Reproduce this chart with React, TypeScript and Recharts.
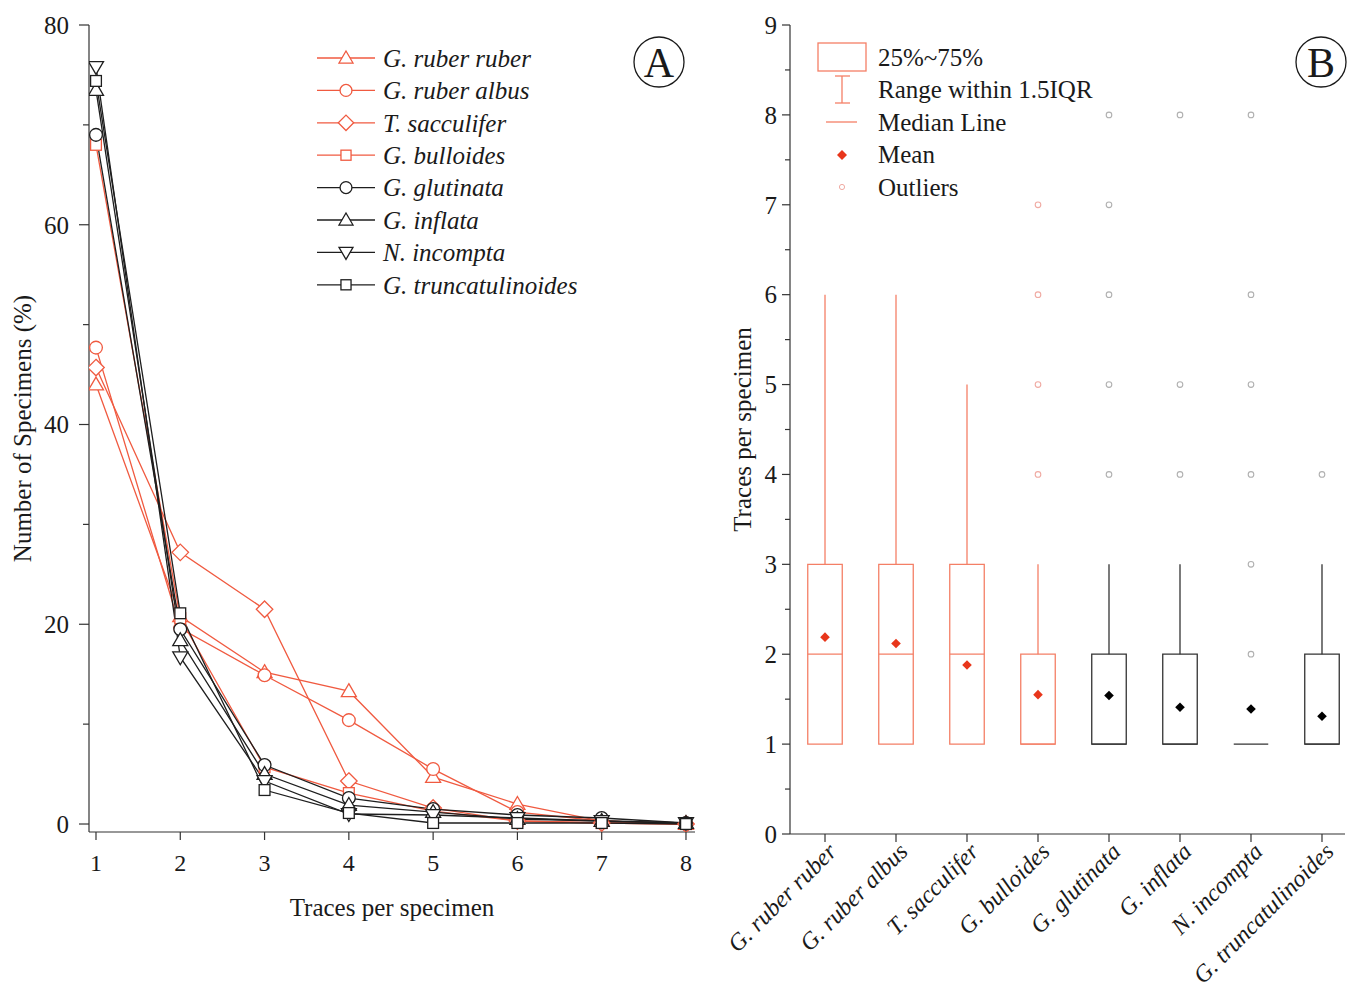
import React from 'react';
import {
  LineChart,
  Line,
  XAxis,
  YAxis,
  ComposedChart,
  Scatter,
  ReferenceArea,
  ReferenceLine,
  Legend,
} from 'recharts';

// ---------------- Data: panel A ----------------
const traces = [1, 2, 3, 4, 5, 6, 7, 8];
const gRuberRuber = [44.0, 20.8, 15.2, 13.3, 4.7, 2.0, 0.3, 0.0];
const gRuberAlbus = [47.7, 19.6, 14.9, 10.4, 5.5, 1.2, 0.3, 0.0];
const tSacculifer = [45.7, 27.2, 21.5, 4.3, 1.6, 0.3, 0.1, 0.0];
const gBulloides = [68.0, 20.6, 5.7, 3.1, 1.3, 0.3, 0.1, 0.0];
const gGlutinata = [69.0, 19.5, 5.9, 2.6, 1.5, 0.9, 0.6, 0.1];
const gInflata = [73.5, 18.4, 5.0, 1.9, 1.2, 0.5, 0.3, 0.1];
const nIncompta = [75.8, 16.7, 4.3, 1.0, 0.9, 0.6, 0.3, 0.1];
const gTruncatulinoides = [74.4, 21.1, 3.4, 1.1, 0.1, 0.1, 0.1, 0.0];

const seriesNamesA = [
  'G. ruber ruber',
  'G. ruber albus',
  'T. sacculifer',
  'G. bulloides',
  'G. glutinata',
  'G. inflata',
  'N. incompta',
  'G. truncatulinoides',
];
const seriesValuesA = [
  gRuberRuber,
  gRuberAlbus,
  tSacculifer,
  gBulloides,
  gGlutinata,
  gInflata,
  nIncompta,
  gTruncatulinoides,
];
const yMajorTicksA = [0, 20, 40, 60, 80];
const yMinorTicksA = [10, 30, 50, 70];

// ---------------- Data: panel B ----------------
const speciesB = [
  'G. ruber ruber',
  'G. ruber albus',
  'T. sacculifer',
  'G. bulloides',
  'G. glutinata',
  'G. inflata',
  'N. incompta',
  'G. truncatulinoides',
];
const q1B = [1, 1, 1, 1, 1, 1, 1, 1];
const medianB = [2, 2, 2, 1, 1, 1, 1, 1];
const q3B = [3, 3, 3, 2, 2, 2, 1, 2];
const whiskerHighB = [6, 6, 5, 3, 3, 3, 1, 3];
const meanB = [2.19, 2.12, 1.88, 1.55, 1.54, 1.41, 1.39, 1.31];
const outliersB = [[], [], [], [4, 5, 6, 7], [4, 5, 6, 7, 8], [4, 5, 8], [2, 3, 4, 5, 6, 8], [4]];
const yMajorTicksB = [0, 1, 2, 3, 4, 5, 6, 7, 8, 9];
const yMinorTicksB = [0.5, 1.5, 2.5, 3.5, 4.5, 5.5, 6.5, 7.5, 8.5];

// ---------------- Styles ----------------
const FONT = '"Liberation Serif", "Times New Roman", serif';
const RED = '#f05a40';
const BLACK = '#1e1e1e';
const BOX_RED = '#f47f66';
const BOX_BLACK = '#333333';
const MEAN_RED = '#e8361b';
const OUT_RED = '#f0aaa2';
const OUT_GREY = '#b0b0b0';
const AXIS = '#333333';
const TEXT = '#1a1a1a';

const markerA = ['triangle', 'circle', 'diamond', 'square', 'circle', 'triangle', 'triangleDown', 'square'];
const colorA = [RED, RED, RED, RED, BLACK, BLACK, BLACK, BLACK];
const isRedB = [true, true, true, true, false, false, false, false];
const BOX_HALF = 0.243;

// tables built from arrays
const tableA = traces.map((t, i) => {
  const row: any = { t };
  seriesValuesA.forEach((vals, s) => {
    row['s' + s] = vals[i];
  });
  return row;
});
const boxRows = speciesB.map((name, i) => ({
  pos: i + 1,
  name,
  q1: q1B[i],
  med: medianB[i],
  q3: q3B[i],
  hi: whiskerHighB[i],
  v: meanB[i],
  red: isRedB[i],
}));
const outlierRows: any[] = [];
outliersB.forEach((arr, i) => arr.forEach((v) => outlierRows.push({ pos: i + 1, v, red: isRedB[i] })));

// ---------------- Markers ----------------
function Marker({ shape, cx, cy, s, color, sw = 1.3 }: any) {
  if (cx == null || cy == null) return null;
  switch (shape) {
    case 'circle':
      return <circle cx={cx} cy={cy} r={s * 0.85} fill="#fff" stroke={color} strokeWidth={sw} />;
    case 'square': {
      const h = s * 0.72;
      return <rect x={cx - h} y={cy - h} width={2 * h} height={2 * h} fill="#fff" stroke={color} strokeWidth={sw} />;
    }
    case 'triangle':
      return (
        <polygon
          points={`${cx},${cy - s} ${cx + s},${cy + s * 0.72} ${cx - s},${cy + s * 0.72}`}
          fill="#fff"
          stroke={color}
          strokeWidth={sw}
        />
      );
    case 'triangleDown':
      return (
        <polygon
          points={`${cx},${cy + s} ${cx + s},${cy - s * 0.72} ${cx - s},${cy - s * 0.72}`}
          fill="#fff"
          stroke={color}
          strokeWidth={sw}
        />
      );
    case 'diamond':
      return (
        <polygon
          points={`${cx},${cy - s * 1.1} ${cx + s * 1.1},${cy} ${cx},${cy + s * 1.1} ${cx - s * 1.1},${cy}`}
          fill="#fff"
          stroke={color}
          strokeWidth={sw}
        />
      );
    default:
      return null;
  }
}

// ---------------- Ticks ----------------
const YTickA = (props: any) => {
  const { x, y, payload } = props;
  const major = yMajorTicksA.includes(payload.value);
  return (
    <g>
      <line x1={x} x2={x - (major ? 10 : 6)} y1={y} y2={y} stroke={AXIS} strokeWidth={1.2} />
      {major && (
        <text x={x - 20} y={y} dy="0.35em" textAnchor="end" fontFamily={FONT} fontSize={25} fill={TEXT}>
          {payload.value}
        </text>
      )}
    </g>
  );
};

const XTickA = (props: any) => {
  const { x, y, payload } = props;
  return (
    <g>
      <line x1={x} x2={x} y1={y} y2={y + 8} stroke={AXIS} strokeWidth={1.2} />
      <text x={x} y={y + 31} dy="0.35em" textAnchor="middle" fontFamily={FONT} fontSize={24} fill={TEXT}>
        {payload.value}
      </text>
    </g>
  );
};

const YTickB = (props: any) => {
  const { x, y, payload } = props;
  const major = yMajorTicksB.includes(payload.value);
  return (
    <g>
      <line x1={x} x2={x - (major ? 8 : 5)} y1={y} y2={y} stroke={AXIS} strokeWidth={1.2} />
      {major && (
        <text x={x - 13} y={y} dy="0.35em" textAnchor="end" fontFamily={FONT} fontSize={25} fill={TEXT}>
          {payload.value}
        </text>
      )}
    </g>
  );
};

const XTickB = (props: any) => {
  const { x, y, payload } = props;
  const name = speciesB[Math.round(payload.value) - 1];
  const ax = x + 13;
  const ay = y + 19;
  return (
    <g>
      <line x1={x} x2={x} y1={y} y2={y + 8} stroke={AXIS} strokeWidth={1.2} />
      <text
        transform={`translate(${ax},${ay}) rotate(-45)`}
        textAnchor="end"
        fontFamily={FONT}
        fontStyle="italic"
        fontSize={24}
        fill={TEXT}
      >
        {name}
      </text>
    </g>
  );
};

// ---------------- Legends ----------------
const LegendA = () => (
  <svg width={300} height={270} style={{ overflow: 'visible', display: 'block' }}>
    {seriesNamesA.map((name, i) => {
      const cy = 23 + i * 32.4;
      return (
        <g key={name}>
          <line x1={7} x2={65} y1={cy} y2={cy} stroke={colorA[i]} strokeWidth={1.3} />
          <Marker shape={markerA[i]} cx={36} cy={cy} s={7} color={colorA[i]} sw={1.3} />
          <text x={73} y={cy} dy="0.35em" fontFamily={FONT} fontStyle="italic" fontSize={25} fill={TEXT}>
            {name}
          </text>
        </g>
      );
    })}
  </svg>
);

const legendLabelsB = ['25%~75%', 'Range within 1.5IQR', 'Median Line', 'Mean', 'Outliers'];
const LegendB = () => (
  <svg width={320} height={180} style={{ overflow: 'visible', display: 'block' }}>
    <rect x={8} y={8} width={48} height={28} fill="none" stroke={BOX_RED} strokeWidth={1.3} />
    <line x1={32} x2={32} y1={41} y2={68} stroke={BOX_RED} strokeWidth={1.3} />
    <line x1={25} x2={40} y1={41} y2={41} stroke={BOX_RED} strokeWidth={1.3} />
    <line x1={25} x2={40} y1={68} y2={68} stroke={BOX_RED} strokeWidth={1.3} />
    <line x1={16} x2={47} y1={87} y2={87} stroke={BOX_RED} strokeWidth={1.3} />
    <polygon points="32,115 37,120 32,125 27,120" fill={MEAN_RED} />
    <circle cx={32} cy={152} r={2.6} fill="none" stroke={OUT_RED} strokeWidth={1} />
    {legendLabelsB.map((t, i) => (
      <text key={t} x={68} y={22 + i * 32.5} dy="0.35em" fontFamily={FONT} fontSize={25} fill={TEXT}>
        {t}
      </text>
    ))}
  </svg>
);

// ---------------- Scatter shapes ----------------
const MeanShape = (props: any) => {
  const { cx, cy, payload } = props;
  if (cx == null || cy == null) return null;
  const s = 4.8;
  return (
    <polygon
      points={`${cx},${cy - s} ${cx + s},${cy} ${cx},${cy + s} ${cx - s},${cy}`}
      fill={payload.red ? MEAN_RED : '#000'}
    />
  );
};
const OutlierShape = (props: any) => {
  const { cx, cy, payload } = props;
  if (cx == null || cy == null) return null;
  return <circle cx={cx} cy={cy} r={2.8} fill="none" stroke={payload.red ? OUT_RED : OUT_GREY} strokeWidth={1.1} />;
};

// ---------------- Axis titles ----------------
const yTitle = (text: string, offsetX: number) => (p: any) => {
  const vb = p.viewBox || { x: 0, y: 0, width: 0, height: 0 };
  const x = vb.x + offsetX;
  const y = vb.y + vb.height / 2;
  return (
    <text
      x={x}
      y={y}
      transform={`rotate(-90 ${x} ${y})`}
      textAnchor="middle"
      dy="0.35em"
      fontFamily={FONT}
      fontSize={25}
      fill={TEXT}
    >
      {text}
    </text>
  );
};
const xTitle = (text: string) => (p: any) => {
  const vb = p.viewBox || { x: 0, y: 0, width: 0, height: 0 };
  return (
    <text x={vb.x + vb.width / 2} y={vb.y + 75} dy="0.35em" textAnchor="middle" fontFamily={FONT} fontSize={25} fill={TEXT}>
      {text}
    </text>
  );
};

export default function App() {
  const drawOrder = [0, 1, 2, 3, 4, 5, 6, 7];
  return (
    <div style={{ position: 'absolute', left: 0, top: 0, width: 1349, height: 994, background: '#fff' }}>
      {/* Panel A */}
      <div style={{ position: 'absolute', left: 0, top: 0 }}>
        <LineChart width={710} height={994} data={tableA} margin={{ top: 25, right: 15, bottom: 72, left: 0 }}>
          <XAxis
            dataKey="t"
            type="number"
            domain={[0.917, 8.107]}
            allowDataOverflow
            ticks={traces}
            interval={0}
            tick={<XTickA />}
            tickLine={false}
            tickSize={0}
            tickMargin={0}
            height={90}
            stroke={AXIS}
            axisLine={{ stroke: AXIS, strokeWidth: 1.2 }}
            label={{ content: xTitle('Traces per specimen') }}
          />
          <XAxis
            xAxisId="top"
            orientation="top"
            type="number"
            domain={[0.917, 8.107]}
            allowDataOverflow
            tick={false}
            tickLine={false}
            height={0}
            axisLine={{ stroke: AXIS, strokeWidth: 1.2 }}
          />
          <YAxis
            type="number"
            domain={[-0.8, 80]}
            allowDataOverflow
            ticks={[...yMajorTicksA, ...yMinorTicksA]}
            interval={0}
            tick={<YTickA />}
            tickLine={false}
            tickSize={0}
            tickMargin={0}
            width={89}
            axisLine={{ stroke: AXIS, strokeWidth: 1.2 }}
            label={{ content: yTitle('Number of Specimens (%)', 22) }}
          />
          <YAxis
            yAxisId="right"
            orientation="right"
            type="number"
            domain={[-0.8, 80]}
            allowDataOverflow
            tick={false}
            tickLine={false}
            width={0}
            axisLine={{ stroke: AXIS, strokeWidth: 1.2 }}
          />
          {drawOrder.map((s) => (
            <Line
              key={'s' + s}
              dataKey={'s' + s}
              name={seriesNamesA[s]}
              type="linear"
              stroke={colorA[s]}
              strokeWidth={1.3}
              isAnimationActive={false}
              activeDot={false}
              dot={(p: any) => (
                <Marker key={`d${s}-${p.index}`} shape={markerA[s]} cx={p.cx} cy={p.cy} s={7.5} color={colorA[s]} />
              )}
            />
          ))}
          <Legend
            layout="vertical"
            align="center"
            verticalAlign="middle"
            content={() => <LegendA />}
            wrapperStyle={{ left: 310, top: 35, width: 300 }}
          />
        </LineChart>
      </div>

      {/* Panel B */}
      <div style={{ position: 'absolute', left: 700, top: 0 }}>
        <ComposedChart width={649} height={994} data={boxRows} margin={{ top: 25, right: 4, bottom: 70, left: 0 }}>
          <XAxis
            dataKey="pos"
            type="number"
            domain={[0.507, 8.324]}
            allowDataOverflow
            ticks={[1, 2, 3, 4, 5, 6, 7, 8]}
            interval={0}
            tick={<XTickB />}
            tickLine={false}
            tickSize={0}
            tickMargin={0}
            height={90}
            axisLine={{ stroke: AXIS, strokeWidth: 1.2 }}
          />
          <XAxis
            xAxisId="top"
            orientation="top"
            type="number"
            domain={[0.507, 8.324]}
            allowDataOverflow
            tick={false}
            tickLine={false}
            height={0}
            axisLine={{ stroke: AXIS, strokeWidth: 1.2 }}
          />
          <YAxis
            dataKey="v"
            type="number"
            domain={[0, 9]}
            allowDataOverflow
            ticks={[...yMajorTicksB, ...yMinorTicksB]}
            interval={0}
            tick={<YTickB />}
            tickLine={false}
            tickSize={0}
            tickMargin={0}
            width={90}
            axisLine={{ stroke: AXIS, strokeWidth: 1.2 }}
            label={{ content: yTitle('Traces per specimen', 42) }}
          />
          {boxRows.map((r) =>
            r.q3 > r.q1 ? (
              <ReferenceArea
                key={'box' + r.pos}
                x1={r.pos - BOX_HALF}
                x2={r.pos + BOX_HALF}
                y1={r.q1}
                y2={r.q3}
                fill="none"
                fillOpacity={0}
                stroke={r.red ? BOX_RED : BOX_BLACK}
                strokeWidth={1.3}
                strokeOpacity={1}
                ifOverflow="visible"
              />
            ) : null
          )}
          {boxRows.map((r) =>
            r.hi > r.q3 ? (
              <ReferenceLine
                key={'wh' + r.pos}
                segment={[
                  { x: r.pos, y: r.q3 },
                  { x: r.pos, y: r.hi },
                ]}
                stroke={r.red ? BOX_RED : BOX_BLACK}
                strokeWidth={1.3}
                ifOverflow="visible"
              />
            ) : null
          )}
          {boxRows.map((r) => (
            <ReferenceLine
              key={'med' + r.pos}
              segment={[
                { x: r.pos - BOX_HALF, y: r.med },
                { x: r.pos + BOX_HALF, y: r.med },
              ]}
              stroke={r.red ? BOX_RED : BOX_BLACK}
              strokeWidth={1.3}
              ifOverflow="visible"
            />
          ))}
          <Scatter data={outlierRows} dataKey="v" shape={<OutlierShape />} isAnimationActive={false} />
          <Scatter data={boxRows} dataKey="v" shape={<MeanShape />} isAnimationActive={false} />
          <Legend
            layout="vertical"
            align="center"
            verticalAlign="middle"
            content={() => <LegendB />}
            wrapperStyle={{ left: 110, top: 35, width: 320 }}
          />
        </ComposedChart>
      </div>

      {/* Panel letters */}
      <svg
        width={1349}
        height={994}
        style={{ position: 'absolute', left: 0, top: 0, pointerEvents: 'none' }}
      >
        <circle cx={659} cy={62} r={25} fill="none" stroke={TEXT} strokeWidth={1.3} />
        <text x={659} y={62} dy="0.36em" textAnchor="middle" fontFamily={FONT} fontSize={42} fill={TEXT}>
          A
        </text>
        <circle cx={1321} cy={62} r={25} fill="none" stroke={TEXT} strokeWidth={1.3} />
        <text x={1321} y={62} dy="0.36em" textAnchor="middle" fontFamily={FONT} fontSize={42} fill={TEXT}>
          B
        </text>
      </svg>
    </div>
  );
}
